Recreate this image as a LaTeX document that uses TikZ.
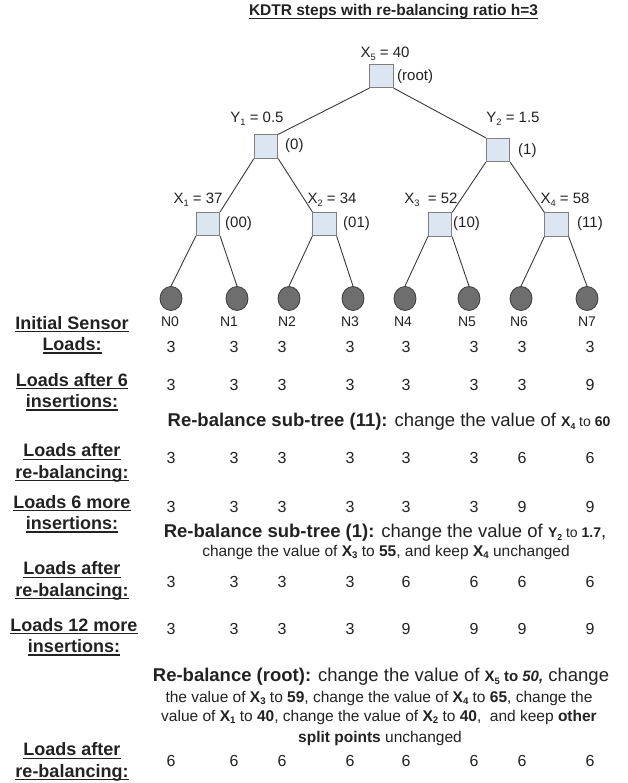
\documentclass[tikz,border=0pt]{standalone}
\usepackage{fontspec}
\setmainfont{Liberation Sans}
\usetikzlibrary{shapes.geometric}
\definecolor{boxfill}{HTML}{DCE6F2}
\definecolor{boxedge}{HTML}{7F7F7F}
\definecolor{leaffill}{HTML}{6E6E6E}
\definecolor{leafedge}{HTML}{3C3C3C}
\definecolor{edgecol}{HTML}{3A3A3A}
\definecolor{txt}{HTML}{222222}
\newcommand\fsz[2]{\fontsize{#1}{#2}\selectfont}
\newcommand\ulb[1]{\setbox0\hbox{#1}\rlap{\rule[-3pt]{\wd0}{1.3pt}}\box0}
\newcommand\sbs[1]{\raisebox{-0.35ex}{\scalebox{0.62}{#1}}}
\begin{document}
\begin{tikzpicture}[x=1pt,y=-1pt,
  split/.style={draw=boxedge, fill=boxfill, minimum size=23.5pt, inner sep=0pt, line width=0.8pt},
  leaf/.style={ellipse, draw=leafedge, fill=leaffill, minimum width=22pt, minimum height=24pt, inner sep=0pt, line width=0.8pt},
  edge/.style={draw=edgecol, line width=0.9pt},
  tlab/.style={font=\fsz{15}{18}, text=txt, inner sep=0pt},
  code/.style={font=\fsz{15}{18}, text=txt, anchor=west, inner sep=0pt},
  nlab/.style={font=\fsz{14}{16}, text=txt, inner sep=0pt},
  val/.style={font=\fsz{16}{18}, text=txt, inner sep=0pt},
  rowlab/.style={font=\fsz{18}{21.5}\bfseries, text=txt, align=center, inner sep=0pt},
  body/.style={font=\fsz{18.5}{22}, text=txt, inner sep=0pt},
  bodys/.style={font=\fsz{15.5}{19.5}, text=txt, inner sep=0pt},
]
\useasboundingbox (0,0) rectangle (628,783);
\fill[white] (0,0) rectangle (628,783);

% title
\node[font=\fsz{15.5}{18}\bfseries, text=txt, inner sep=0pt] (title) at (393.5,12) {\ulb{KDTR steps with re-balancing ratio h=3}};

% split nodes
\node[split] (root) at (381.5,76) {};
\node[split] (y1) at (266,146.5) {};
\node[split] (y2) at (498,150) {};
\node[split] (x1) at (208,224) {};
\node[split] (x2) at (324.5,224) {};
\node[split] (x3) at (440,224.5) {};
\node[split] (x4) at (556.5,224.5) {};

% leaves
\foreach \xx [count=\i from 0] in {171,237,289,353,405,469,521,587}
  \node[leaf] (n\i) at (\xx,298.5) {};

% edges
\draw[edge] (root.south west) -- (y1.north east);
\draw[edge] (root.south east) -- (y2.north west);
\draw[edge] (y1.south west) -- (x1.north east);
\draw[edge] (y1.south east) -- (x2.north west);
\draw[edge] (y2.south west) -- (x3.north east);
\draw[edge] (y2.south east) -- (x4.north west);
\draw[edge] (x1.south west) -- (n0.north);
\draw[edge] (x1.south east) -- (n1.north);
\draw[edge] (x2.south west) -- (n2.north);
\draw[edge] (x2.south east) -- (n3.north);
\draw[edge] (x3.south west) -- (n4.north);
\draw[edge] (x3.south east) -- (n5.north);
\draw[edge] (x4.south west) -- (n6.north);
\draw[edge] (x4.south east) -- (n7.north);

% tree labels
\node[tlab] (lx5) at (385,54) {X\sbs{5} = 40};
\node[code] (cr) at (397,77) {(root)};
\node[tlab] (ly1) at (257,119) {Y\sbs{1} = 0.5};
\node[code] (c0) at (285,146) {(0)};
\node[tlab] (ly2) at (513,119) {Y\sbs{2} = 1.5};
\node[code] (c1) at (518,151) {(1)};
\node[tlab] (lx1) at (198,200) {X\sbs{1} = 37};
\node[code] (c00) at (225,224) {(00)};
\node[tlab] (lx2) at (332,200) {X\sbs{2} = 34};
\node[code] (c01) at (343,224) {(01)};
\node[tlab] (lx3) at (431,200) {X\sbs{3}\ \ = 52};
\node[code] (c10) at (453,224) {(10)};
\node[tlab] (lx4) at (565,200) {X\sbs{4} = 58};
\node[code] (c11) at (577,224) {(11)};

% leaf names
\foreach \xx [count=\i from 0] in {170,229,287,350,403,467,519,587}
  \node[nlab] (ln\i) at (\xx,322) {N\i};

% row labels
\node[rowlab] (l1) at (72,335) {\ulb{Initial Sensor}\\\ulb{Loads:}};
\node[rowlab] (l2) at (72,392) {\ulb{Loads after 6}\\\ulb{insertions:}};
\node[rowlab] (l3) at (72,463) {\ulb{Loads after}\\\ulb{re-balancing:}};
\node[rowlab] (l4) at (72,514) {\ulb{Loads 6 more}\\\ulb{insertions:}};
\node[rowlab] (l5) at (72,581) {\ulb{Loads after}\\\ulb{re-balancing:}};
\node[rowlab] (l6) at (74,637) {\ulb{Loads 12 more}\\\ulb{insertions:}};
\node[rowlab] (l7) at (72,762) {\ulb{Loads after}\\\ulb{re-balancing:}};

% load values
\foreach \r/\yy/\va/\vb/\vc/\vd/\ve/\vf/\vg/\vh in {
  1/347/3/3/3/3/3/3/3/3,
  2/385/3/3/3/3/3/3/3/9,
  3/458/3/3/3/3/3/3/6/6,
  4/507/3/3/3/3/3/3/9/9,
  5/582/3/3/3/3/6/6/6/6,
  6/629/3/3/3/3/9/9/9/9,
  7/761/6/6/6/6/6/6/6/6}
{
  \foreach \xx/\v [count=\i] in {171/\va,234/\vb,282/\vc,350/\vd,406/\ve,474/\vf,522/\vg,590/\vh}
    \node[val] (v\r-\i) at (\xx,\yy) {\v};
}

% re-balancing notes
\node[body] (ta) at (389,422) {\textbf{Re-balance sub-tree (11):} change the value of {\fsz{14}{16}\textbf{X\sbs{4}} to \textbf{60}}};
\node[body] (tb) at (385,533) {\textbf{Re-balance sub-tree (1):} change the value of {\fsz{14}{16}\textbf{Y\sbs{2}} to \textbf{1.7}},};
\node[bodys] (tc) at (386,552) {change the value of \textbf{X\sbs{3}} to \textbf{55}, and keep \textbf{X\sbs{4}} unchanged};
\node[body] (td) at (381,677) {\textbf{Re-balance (root):} change the value of {\fsz{15}{16}\textbf{X\sbs{5} to \textit{50,}}} change};
\node[bodys] (te) at (379,698) {the value of \textbf{X\sbs{3}} to \textbf{59}, change the value of \textbf{X\sbs{4}} to \textbf{65}, change the};
\node[bodys] (tf) at (379,717) {value of \textbf{X\sbs{1}} to \textbf{40}, change the value of \textbf{X\sbs{2}} to \textbf{40}, \ and keep \textbf{other}};
\node[bodys] (tg) at (380,738) {\textbf{split points} unchanged};
\end{tikzpicture}
\end{document}
